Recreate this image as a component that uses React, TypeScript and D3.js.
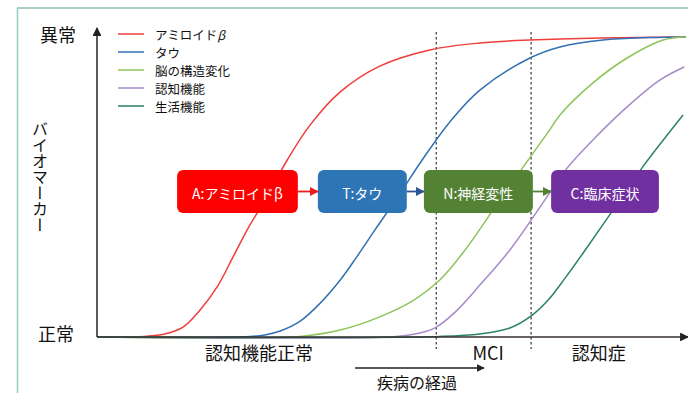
import React from "react";
import * as d3 from "d3";

// Biomarker level (0 = 正常, 100 = 異常) over disease progression (0–100)
const amyloid: [number, number][] = [
  [0, 0], [8.1, 0.2], [11.5, 1], [14.6, 3.3], [17.5, 9], [20.4, 16.7], [23.1, 26.7],
  [25.5, 35.7], [29.0, 47.3], [32.3, 59], [36.2, 70.7], [41.3, 81.7], [48.0, 90.3],
  [56.5, 95.7], [65.0, 98], [73.5, 99], [85.4, 99.7], [100, 100],
];
const tau: [number, number][] = [
  [0, 0], [26.0, 0.2], [28.5, 0.7], [31.1, 2], [34.5, 5.3], [37.9, 11.3], [41.3, 19],
  [44.1, 26.7], [47.2, 35.7], [51.4, 47.7], [55.2, 59], [59.9, 71.7], [65.0, 82.3],
  [73.5, 93], [78.6, 96.7], [85.9, 99], [93.9, 99.8], [100, 100],
];
const brainStructure: [number, number][] = [
  [0, 0], [34.5, 0.2], [41.3, 2.3], [48.0, 6.7], [53.8, 12.3], [58.2, 19], [62.5, 29],
  [68.4, 45.7], [74.4, 62.3], [76.6, 68.3], [78.6, 74], [84.2, 84.7], [90.0, 93],
  [96.1, 99], [100, 100],
];
const cognition: [number, number][] = [
  [0, 0], [50.8, 0.2], [54.8, 1.3], [57.6, 3.3], [60.8, 8.3], [65.0, 17.3], [70.1, 29],
  [76.6, 47.3], [79.8, 56.3], [84.2, 65.7], [90.0, 76.7], [95.6, 85.7], [99.7, 90],
];
const dailyFunction: [number, number][] = [
  [0, 0], [58.2, 0.2], [65.0, 1], [70.1, 3], [73.9, 7.3], [76.6, 12.3], [79.5, 19.7],
  [82.9, 29], [88.8, 45.7], [92.5, 56.3], [99.5, 74],
];

const seriesNames = ["アミロイドβ", "タウ", "脳の構造変化", "認知機能", "生活機能"];
const seriesColors = ["#ee3e3a", "#3370b4", "#8dc45a", "#a58ac9", "#2c8266"];
const seriesData = [amyloid, tau, brainStructure, cognition, dailyFunction];

// Stage boundaries (progression units) and stage labels
const stageBounds = [57.6, 73.7];
const stageLabels = ["認知機能正常", "MCI", "認知症"];
const stageCenters = [27.5, 66.4, 85.2];

// ATN cascade boxes
const atnLabels = ["A:アミロイドβ", "T:タウ", "N:神経変性", "C:臨床症状"];
const atnFills = ["#ff0000", "#2e75b6", "#548235", "#7030a0"];
const atnArrowColors = ["#ee1c1c", "#2f5597", "#548235"];
const atnBoxes: [number, number][] = [
  [13.6, 34.1], [37.5, 52.6], [55.5, 74.0], [77.1, 95.4],
];

const W = 688;
const H = 393;
const FONT = "'Noto Sans CJK JP', 'Noto Sans', sans-serif";

export default function App() {
  const x = d3.scaleLinear().domain([0, 100]).range([97, 686]);
  const y = d3.scaleLinear().domain([0, 100]).range([337, 37]);
  const line = d3
    .line<[number, number]>()
    .x((d) => x(d[0]))
    .y((d) => y(d[1]))
    .curve(d3.curveCatmullRom.alpha(0.5));

  const boxTop = 170;
  const boxBottom = 213;
  const boxMid = (boxTop + boxBottom) / 2;

  return (
    <svg
      width={W}
      height={H}
      style={{ position: "fixed", left: 0, top: 0, background: "#fff", display: "block" }}
      fontFamily={FONT}
    >
      <defs>
        {atnArrowColors.map((c, i) => (
          <marker
            key={i}
            id={`ah${i}`}
            viewBox="0 0 10 10"
            refX="9"
            refY="5"
            markerWidth="5"
            markerHeight="5"
            orient="auto"
          >
            <path d="M0,0 L10,5 L0,10 z" fill={c} />
          </marker>
        ))}
        <marker id="axisHead" viewBox="0 0 10 10" refX="9" refY="5" markerWidth="5.5" markerHeight="5.5" orient="auto">
          <path d="M0,0 L10,5 L0,10 z" fill="#222" />
        </marker>
      </defs>

      {/* slide frame */}
      <line x1={17} y1={8} x2={W} y2={8} stroke="#8fbfa8" strokeWidth={1.5} />
      <line x1={17.5} y1={8} x2={17.5} y2={H} stroke="#8fd0c6" strokeWidth={1.5} />

      {/* stage dividers */}
      {stageBounds.map((b, i) => (
        <line
          key={i}
          x1={x(b)}
          x2={x(b)}
          y1={32}
          y2={349}
          stroke="#333"
          strokeWidth={1.2}
          strokeDasharray="2.5,2.5"
        />
      ))}

      {/* curves */}
      {seriesData.map((d, i) => (
        <path key={i} d={line(d) ?? ""} fill="none" stroke={seriesColors[i]} strokeWidth={1.5} />
      ))}

      {/* axes */}
      <line x1={97} y1={337} x2={97} y2={28} stroke="#3a3030" strokeWidth={1.6} markerEnd="url(#axisHead)" />
      <line x1={97} y1={337} x2={688} y2={337} stroke="#3a3030" strokeWidth={1.6} markerEnd="url(#axisHead)" />

      <text x={58} y={34} fontSize={18} textAnchor="middle" dominantBaseline="central" fill="#111">異常</text>
      <text x={56} y={333} fontSize={18} textAnchor="middle" dominantBaseline="central" fill="#111">正常</text>
      <text
        x={40}
        y={121}
        fontSize={16}
        fill="#111"
        style={{ writingMode: "vertical-rl" }}
      >
        バイオマーカー
      </text>

      {/* legend */}
      {seriesNames.map((n, i) => {
        const ly = 34 + i * 18;
        return (
          <g key={n}>
            <line x1={118} x2={144} y1={ly} y2={ly} stroke={seriesColors[i]} strokeWidth={1.5} />
            <text x={155} y={ly} fontSize={12.5} dominantBaseline="central" fill="#111">
              {i === 0 ? (
                <>
                  アミロイド<tspan fontStyle="italic">β</tspan>
                </>
              ) : (
                n
              )}
            </text>
          </g>
        );
      })}

      {/* ATN boxes */}
      {atnBoxes.map(([a, b], i) => (
        <g key={i}>
          <rect
            x={x(a)}
            y={boxTop}
            width={x(b) - x(a)}
            height={boxBottom - boxTop}
            rx={6}
            fill={atnFills[i]}
          />
          <text
            x={(x(a) + x(b)) / 2}
            y={boxMid + 1}
            fontSize={14}
            textAnchor="middle"
            dominantBaseline="central"
            fill="#fff"
          >
            {atnLabels[i]}
          </text>
        </g>
      ))}
      {atnArrowColors.map((c, i) => (
        <line
          key={i}
          x1={x(atnBoxes[i][1])}
          x2={x(atnBoxes[i + 1][0])}
          y1={boxMid}
          y2={boxMid}
          stroke={c}
          strokeWidth={1.8}
          markerEnd={`url(#ah${i})`}
        />
      ))}

      {/* stage labels */}
      {stageLabels.map((s, i) => (
        <text
          key={s}
          x={x(stageCenters[i])}
          y={352}
          fontSize={18}
          textAnchor="middle"
          dominantBaseline="central"
          fill="#111"
        >
          {s}
        </text>
      ))}

      {/* progression arrow */}
      <line x1={355} x2={484} y1={368} y2={368} stroke="#222" strokeWidth={1.4} markerEnd="url(#axisHead)" />
      <text x={417} y={382} fontSize={16} textAnchor="middle" dominantBaseline="central" fill="#111">
        疾病の経過
      </text>
    </svg>
  );
}
